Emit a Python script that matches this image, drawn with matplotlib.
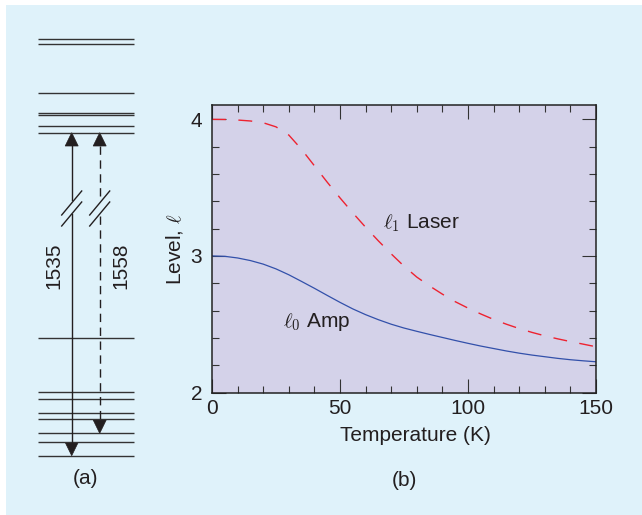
import matplotlib
matplotlib.use('Agg')
import matplotlib.pyplot as plt
from matplotlib.patches import Rectangle, Polygon
from matplotlib.ticker import MultipleLocator

plt.rcParams['font.family'] = ['Liberation Sans', 'DejaVu Sans']
plt.rcParams['mathtext.fontset'] = 'cm'

temp = [0, 5, 10, 15, 20, 25, 30, 35, 40, 45, 50, 55, 60, 65, 70, 75,
        80, 85, 90, 95, 100, 105, 110, 115, 120, 125, 130, 135, 140, 145, 150]
level_amp = [3.000, 2.997, 2.985, 2.966, 2.940, 2.905, 2.862, 2.813, 2.763,
             2.711, 2.660, 2.612, 2.570, 2.533, 2.500, 2.472, 2.448, 2.425,
             2.403, 2.381, 2.360, 2.340, 2.322, 2.304, 2.288, 2.274, 2.262,
             2.250, 2.240, 2.232, 2.225]
level_laser = [4.000, 3.999, 3.995, 3.988, 3.975, 3.945, 3.885, 3.780, 3.660,
               3.540, 3.425, 3.315, 3.210, 3.110, 3.015, 2.925, 2.845, 2.780,
               2.720, 2.665, 2.618, 2.575, 2.535, 2.500, 2.468, 2.440, 2.415,
               2.393, 2.373, 2.354, 2.335]

# (a) energy level sketch (pixel positions, y down)
levels_y = [39, 44.3, 92.7, 112.7, 114.7, 126, 132.7, 338,
            391.7, 399.3, 413.3, 419.3, 433.3, 441.7, 455.7]
wavelengths = ['1535', '1558']

ink = '#231f20'
bg = '#dff2fa'
face = '#d4d2e9'
fs = 15

fig = plt.figure(figsize=(6.42, 5.15), dpi=100)
fig.patch.set_facecolor('white')
fig.patches.append(Rectangle((6 / 642, -0.1), 1.2, 1.1 - 5 / 515,
                             transform=fig.transFigure,
                             facecolor=bg, edgecolor='none', zorder=-10))

# --- panel (a) ---
ax0 = fig.add_axes([0, 0, 1, 1])
ax0.set_xlim(0, 642)
ax0.set_ylim(515, 0)
ax0.axis('off')
ax0.patch.set_visible(False)

ax0.hlines(levels_y, 37.7, 134.3, color='#333333', lw=1.0)


def head(x, tip, up):
    d = 13.3 if up else -13.3
    ax0.add_patch(Polygon([(x, tip), (x - 6.5, tip + d), (x + 6.5, tip + d)],
                          closed=True, facecolor=ink, edgecolor=ink, lw=0.5))


def brk(x):
    for y0 in (203, 214):
        ax0.plot([x - 10, x + 10], [y0 + 12, y0 - 12], color=ink, lw=1.0)


# solid arrow 1535
xs = 71.7
ax0.plot([xs, xs], [146, 200], color=ink, lw=1.0)
ax0.plot([xs, xs], [214, 443], color=ink, lw=1.0)
head(xs, 132.7, True)
head(xs, 455.7, False)
brk(xs)

# dashed arrow 1558
xd = 99.7
ax0.plot([xd, xd], [146, 200], color=ink, lw=1.0, dashes=(6, 4))
ax0.plot([xd, xd], [216, 420], color=ink, lw=1.0, dashes=(6, 4))
head(xd, 132.7, True)
head(xd, 433.3, False)
brk(xd)

ax0.text(54, 266, wavelengths[0], rotation=90, ha='center', va='center',
         fontsize=fs, color=ink)
ax0.text(121, 266, wavelengths[1], rotation=90, ha='center', va='center',
         fontsize=fs, color=ink)
ax0.text(85, 478, '(a)', ha='center', va='center', fontsize=fs, color=ink)
ax0.text(404, 480, '(b)', ha='center', va='center', fontsize=fs, color=ink)

# --- panel (b) ---
ax = fig.add_axes([212 / 642, 1 - 392.5 / 515, 384 / 642, 287.5 / 515])
ax.set_facecolor(face)
ax.plot(temp, level_amp, color='#3250aa', lw=0.9)
ax.plot(temp, level_laser, color='#ee2230', lw=1.0, dashes=(10, 9))

ax.set_xlim(0, 150)
ax.set_ylim(2, 4.105)
ax.xaxis.set_major_locator(MultipleLocator(50))
ax.xaxis.set_minor_locator(MultipleLocator(10))
ax.yaxis.set_major_locator(MultipleLocator(1))
ax.yaxis.set_minor_locator(MultipleLocator(0.2))
ax.tick_params(which='both', direction='in', top=True, right=True,
               color='#333333', labelcolor=ink, labelsize=fs)
ax.tick_params(which='major', length=10, width=0.8)
ax.tick_params(which='minor', length=5, width=0.8)
ax.tick_params(axis='x', pad=5)
ax.tick_params(axis='y', pad=7)
for s in ax.spines.values():
    s.set_linewidth(1.1)
    s.set_color('#222222')

ax.set_xlabel('Temperature (K)', fontsize=fs, color=ink)
ax.xaxis.set_label_coords(0.531, -0.118)
ax.set_ylabel(r'Level, $\ell$', fontsize=fs, color=ink)
ax.yaxis.set_label_coords(-0.07, 0.5)

ax.text(66.8, 3.20, r'$\ell_{\mathsf{1}}$ Laser', fontsize=fs, color=ink,
        ha='left', va='baseline')
ax.text(27.9, 2.48, r'$\ell_{\mathsf{0}}$ Amp', fontsize=fs, color=ink,
        ha='left', va='baseline')

fig.savefig('out.png', dpi=100, facecolor=fig.get_facecolor())
